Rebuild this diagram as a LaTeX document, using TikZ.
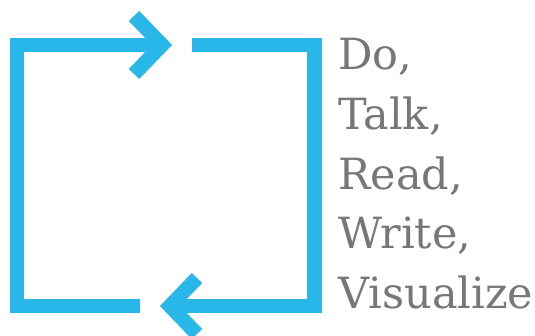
\documentclass[tikz,border=0pt]{standalone}
\usepackage{fontspec}
\setmainfont{DejaVu Serif}
\usetikzlibrary{calc}
\definecolor{loopblue}{HTML}{29B7EA}
\definecolor{wordgray}{HTML}{76777B}
\tikzset{
  loopline/.style={draw=loopblue,line width=14.5pt,line join=miter},
  word/.style={anchor=base west,inner sep=0pt,text=wordgray,font=\fontsize{43}{43}\selectfont}
}

\begin{document}
\begin{tikzpicture}[x=1pt,y=1pt]
    \useasboundingbox (0,0) rectangle (535,336);
    % corners of the loop
    \path (17,291) coordinate (tl);
    \path (314.5,291) coordinate (tr);
    \path (314.5,30) coordinate (br);
    \path (17,30) coordinate (bl);
    % arrow points and gaps
    \path (162,291) coordinate (toptip);
    \path (191.7,291) coordinate (topgap);
    \path (170,30) coordinate (bottip);
    \path (140,30) coordinate (botgap);
    \draw [loopline] (botgap) -- (bl) -- (tl) -- (toptip);
    \draw [loopline] ($(toptip)+(-28,29)$) -- (toptip) -- ($(toptip)+(-28,-29)$);
    \draw [loopline] (topgap) -- (tr) -- (br) -- (bottip);
    \draw [loopline] ($(bottip)+(27,28)$) -- (bottip) -- ($(bottip)+(27,-28)$);
    % words
    \path (338,266.7) node [word] (do) {Do,};
    \path (338,206.8) node [word] (talk) {Talk,};
    \path (338,146.9) node [word] (read) {Read,};
    \path (338,87) node [word] (write) {Write,};
    \path (338,27) node [word] (visualize) {Visualize};
\end{tikzpicture}
\end{document}
